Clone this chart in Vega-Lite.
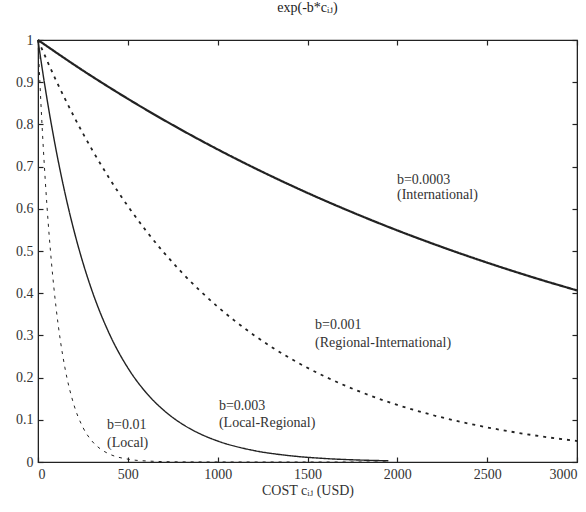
{
  "$schema": "https://vega.github.io/schema/vega-lite/v6.json",
  "width": 539,
  "height": 422,
  "autosize": {"type": "none"},
  "padding": {"left": 38, "top": 40, "right": 9, "bottom": 50},
  "background": "white",
  "title": {"text": "exp(-b*cᵢⱼ)", "font": "Liberation Serif, DejaVu Serif, serif", "fontSize": 14, "fontWeight": "normal", "color": "#222", "offset": 18, "anchor": "middle"},
  "config": {
    "view": {"stroke": "#222", "strokeWidth": 1.2},
    "axis": {"grid": false, "domainColor": "#222", "tickColor": "#222", "tickWidth": 1.2, "labelFont": "Liberation Serif, DejaVu Serif, serif", "labelFontSize": 14, "labelColor": "#333", "titleFont": "Liberation Serif, DejaVu Serif, serif", "titleFontSize": 14, "titleFontWeight": "normal", "titleColor": "#333"}
  },
  "datasets": {
    "curves": [
      {"s": "b=0.0003", "c": 0, "v": 1}, {"s": "b=0.0003", "c": 250, "v": 0.9277}, {"s": "b=0.0003", "c": 500, "v": 0.8607}, {"s": "b=0.0003", "c": 750, "v": 0.7985}, {"s": "b=0.0003", "c": 1000, "v": 0.7408}, {"s": "b=0.0003", "c": 1250, "v": 0.6873}, {"s": "b=0.0003", "c": 1500, "v": 0.6376}, {"s": "b=0.0003", "c": 1750, "v": 0.5916}, {"s": "b=0.0003", "c": 2000, "v": 0.5488}, {"s": "b=0.0003", "c": 2250, "v": 0.5092}, {"s": "b=0.0003", "c": 2500, "v": 0.4724}, {"s": "b=0.0003", "c": 2750, "v": 0.4382}, {"s": "b=0.0003", "c": 3000, "v": 0.4066},
      {"s": "b=0.001", "c": 0, "v": 1}, {"s": "b=0.001", "c": 100, "v": 0.9048}, {"s": "b=0.001", "c": 200, "v": 0.8187}, {"s": "b=0.001", "c": 400, "v": 0.6703}, {"s": "b=0.001", "c": 600, "v": 0.5488}, {"s": "b=0.001", "c": 800, "v": 0.4493}, {"s": "b=0.001", "c": 1000, "v": 0.3679}, {"s": "b=0.001", "c": 1200, "v": 0.3012}, {"s": "b=0.001", "c": 1400, "v": 0.2466}, {"s": "b=0.001", "c": 1600, "v": 0.2019}, {"s": "b=0.001", "c": 1800, "v": 0.1653}, {"s": "b=0.001", "c": 2000, "v": 0.1353}, {"s": "b=0.001", "c": 2200, "v": 0.1108}, {"s": "b=0.001", "c": 2400, "v": 0.0907}, {"s": "b=0.001", "c": 2600, "v": 0.0743}, {"s": "b=0.001", "c": 2800, "v": 0.0608}, {"s": "b=0.001", "c": 3000, "v": 0.0498},
      {"s": "b=0.003", "c": 0, "v": 1}, {"s": "b=0.003", "c": 25, "v": 0.9277}, {"s": "b=0.003", "c": 50, "v": 0.8607}, {"s": "b=0.003", "c": 100, "v": 0.7408}, {"s": "b=0.003", "c": 150, "v": 0.6376}, {"s": "b=0.003", "c": 200, "v": 0.5488}, {"s": "b=0.003", "c": 250, "v": 0.4724}, {"s": "b=0.003", "c": 300, "v": 0.4066}, {"s": "b=0.003", "c": 400, "v": 0.3012}, {"s": "b=0.003", "c": 500, "v": 0.2231}, {"s": "b=0.003", "c": 600, "v": 0.1653}, {"s": "b=0.003", "c": 700, "v": 0.1225}, {"s": "b=0.003", "c": 800, "v": 0.0907}, {"s": "b=0.003", "c": 900, "v": 0.0672}, {"s": "b=0.003", "c": 1000, "v": 0.0498}, {"s": "b=0.003", "c": 1200, "v": 0.0273}, {"s": "b=0.003", "c": 1400, "v": 0.015}, {"s": "b=0.003", "c": 1600, "v": 0.0082}, {"s": "b=0.003", "c": 1800, "v": 0.0045}, {"s": "b=0.003", "c": 1950, "v": 0.0029},
      {"s": "b=0.01", "c": 0, "v": 1}, {"s": "b=0.01", "c": 10, "v": 0.9048}, {"s": "b=0.01", "c": 20, "v": 0.8187}, {"s": "b=0.01", "c": 30, "v": 0.7408}, {"s": "b=0.01", "c": 50, "v": 0.6065}, {"s": "b=0.01", "c": 75, "v": 0.4724}, {"s": "b=0.01", "c": 100, "v": 0.3679}, {"s": "b=0.01", "c": 125, "v": 0.2865}, {"s": "b=0.01", "c": 150, "v": 0.2231}, {"s": "b=0.01", "c": 200, "v": 0.1353}, {"s": "b=0.01", "c": 250, "v": 0.0821}, {"s": "b=0.01", "c": 300, "v": 0.0498}, {"s": "b=0.01", "c": 350, "v": 0.0302}, {"s": "b=0.01", "c": 400, "v": 0.0183}, {"s": "b=0.01", "c": 500, "v": 0.0067}, {"s": "b=0.01", "c": 600, "v": 0.0025}, {"s": "b=0.01", "c": 800, "v": 0.0003}, {"s": "b=0.01", "c": 1000, "v": 0.0001}, {"s": "b=0.01", "c": 1500, "v": 0}, {"s": "b=0.01", "c": 1950, "v": 0}
    ],
    "labels": [
      {"c": 1998, "v": 0.668, "t": "b=0.0003"}, {"c": 1998, "v": 0.633, "t": "(International)"},
      {"c": 1542, "v": 0.325, "t": "b=0.001"}, {"c": 1542, "v": 0.282, "t": "(Regional-International)"},
      {"c": 1007, "v": 0.133, "t": "b=0.003"}, {"c": 1007, "v": 0.092, "t": "(Local-Regional)"},
      {"c": 384, "v": 0.088, "t": "b=0.01"}, {"c": 384, "v": 0.045, "t": "(Local)"}
    ]
  },
  "layer": [
    {
      "data": {"name": "curves"},
      "mark": {"type": "line", "interpolate": "monotone", "color": "#222"},
      "encoding": {
        "x": {"field": "c", "type": "quantitative", "scale": {"domain": [0, 3000], "nice": false}, "axis": {"orient": "bottom", "values": [0, 500, 1000, 1500, 2000, 2500, 3000], "format": "d", "tickSize": -5, "labelPadding": 10, "title": "COST cᵢⱼ (USD)", "titlePadding": 2}},
        "y": {"field": "v", "type": "quantitative", "scale": {"domain": [0, 1], "nice": false}, "axis": {"orient": "left", "values": [0, 0.1, 0.2, 0.3, 0.4, 0.5, 0.6, 0.7, 0.8, 0.9, 1], "format": "~g", "tickSize": -5, "labelPadding": 10, "title": null}},
        "detail": {"field": "s"},
        "strokeDash": {"field": "s", "type": "nominal", "scale": {"domain": ["b=0.0003", "b=0.001", "b=0.003", "b=0.01"], "range": [[1, 0], [3, 5], [1, 0], [3, 5]]}, "legend": null},
        "strokeWidth": {"field": "s", "type": "nominal", "scale": {"domain": ["b=0.0003", "b=0.001", "b=0.003", "b=0.01"], "range": [2.2, 1, 1.1, 1.2]}, "legend": null}
      }
    },
    {
      "data": {"name": "labels"},
      "mark": {"type": "text", "align": "left", "baseline": "middle", "font": "Liberation Serif, DejaVu Serif, serif", "fontSize": 14, "color": "#333"},
      "encoding": {
        "x": {"field": "c", "type": "quantitative", "axis": {"orient": "top", "values": [0, 500, 1000, 1500, 2000, 2500, 3000], "tickSize": -5, "labels": false, "title": null}},
        "y": {"field": "v", "type": "quantitative", "axis": {"orient": "right", "values": [0, 0.1, 0.2, 0.3, 0.4, 0.5, 0.6, 0.7, 0.8, 0.9, 1], "tickSize": -5, "labels": false, "title": null}},
        "text": {"field": "t"}
      }
    }
  ],
  "resolve": {"axis": {"x": "independent", "y": "independent"}}
}
